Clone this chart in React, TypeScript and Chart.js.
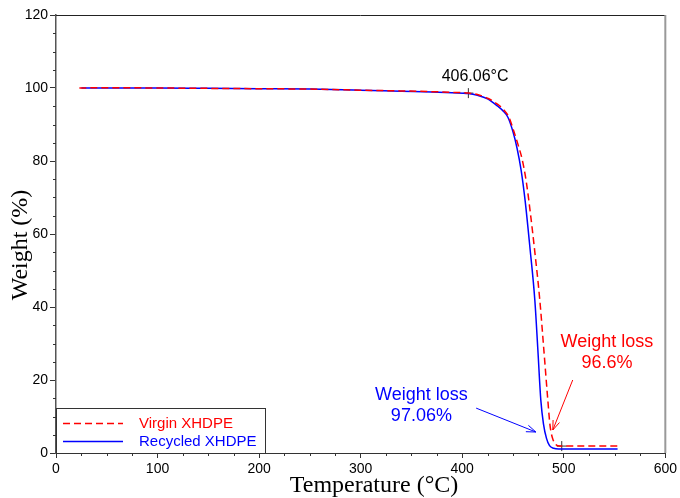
import React, { useEffect, useRef } from 'react';
import { Chart, registerables } from 'chart.js';

Chart.register(...registerables);

// ---- data ----
const virginTemp = [23, 50, 100, 150, 200, 250, 300, 340, 370, 390, 406, 415, 425, 435, 441, 446, 451, 455.5, 459, 463, 467, 471.3, 476.4, 480.4, 484.3, 486.5, 489, 492, 496, 520, 553];
const virginWeight = [100, 100.1, 100, 99.9, 99.8, 99.7, 99.4, 99.2, 99.0, 98.8, 98.6, 98.2, 97.2, 95.5, 94, 92, 88, 84, 80.5, 74.5, 66, 55.6, 41.9, 28.2, 14.5, 7.5, 4, 2.4, 1.9, 1.9, 1.9];

const recycledTemp = [25, 50, 100, 150, 200, 250, 300, 340, 370, 390, 406, 415, 425, 435, 440, 445, 450, 454, 458, 462, 466.6, 471.5, 474.5, 477.4, 480, 483, 486, 490, 495, 520, 553];
const recycledWeight = [100, 100, 100, 99.9, 99.8, 99.7, 99.4, 99.1, 98.9, 98.7, 98.5, 98.0, 97.0, 95.0, 93.8, 92, 88, 83.5, 77.5, 69, 56.5, 41.9, 28.2, 14.5, 8, 4, 2, 1.3, 1.1, 1.1, 1.1];

const markerTemp = [406.06, 498];
const markerWeight = [98.6, 1.9];

const seriesLabels = ['Virgin XHDPE', 'Recycled XHDPE'];
const onsetLabel = '406.06°C';
const onsetLabelPos = [412.7, 103.2];
const virginLossLines = ['Weight loss', '96.6%'];
const virginLossPos = [542.5, 30.4];
const recycledLossLines = ['Weight loss', '97.06%'];
const recycledLossPos = [359.8, 15.9];
const virginArrow = [[508.8, 20.0], [489.2, 6.3]];
const recycledArrow = [[413.7, 12.3], [472.5, 5.75]];

const xTitle = 'Temperature (°C)';
const yTitle = 'Weight (%)';
const xMin = 0, xMax = 600, xStep = 100, xMinorStep = 25;
const yMin = 0, yMax = 120, yStep = 20, yMinorStep = 5;

const SANS = "'Liberation Sans', Arial, sans-serif";
const SERIF = "'Liberation Serif', 'Times New Roman', serif";

const toXY = (xs: number[], ys: number[]) => xs.map((x, i) => ({ x, y: ys[i] }));

const decorPlugin = {
  id: 'decor',
  afterDraw(chart: any) {
    const { ctx, chartArea: a, scales } = chart;
    const xs = scales.x, ys = scales.y;
    const px = (v: number) => xs.getPixelForValue(v);
    const py = (v: number) => ys.getPixelForValue(v);
    ctx.save();

    // frame: top & right
    ctx.strokeStyle = '#222';
    ctx.lineWidth = 1;
    ctx.beginPath();
    ctx.moveTo(a.left, a.top + 0.5);
    ctx.lineTo(a.right, a.top + 0.5);
    ctx.stroke();
    ctx.strokeStyle = '#999';
    ctx.lineWidth = 2;
    ctx.beginPath();
    ctx.moveTo(a.right, a.top);
    ctx.lineTo(a.right, a.bottom);
    ctx.stroke();

    // minor ticks
    ctx.strokeStyle = '#333';
    ctx.lineWidth = 1;
    ctx.beginPath();
    for (let v = xMin + xMinorStep; v < xMax; v += xMinorStep) {
      if (v % xStep === 0) continue;
      const x = Math.round(px(v)) + 0.5;
      ctx.moveTo(x, a.bottom);
      ctx.lineTo(x, a.bottom + 3);
    }
    for (let v = yMin + yMinorStep; v < yMax; v += yMinorStep) {
      if (v % yStep === 0) continue;
      const y = Math.round(py(v)) + 0.5;
      ctx.moveTo(a.left - 3, y);
      ctx.lineTo(a.left, y);
    }
    ctx.stroke();

    // annotations
    ctx.textAlign = 'center';
    ctx.textBaseline = 'middle';
    ctx.fillStyle = '#000';
    ctx.font = `16px ${SANS}`;
    ctx.fillText(onsetLabel, px(onsetLabelPos[0]), py(onsetLabelPos[1]));

    ctx.font = `18px ${SANS}`;
    ctx.fillStyle = '#ff0000';
    virginLossLines.forEach((t, i) => ctx.fillText(t, px(virginLossPos[0]), py(virginLossPos[1]) + i * 21));
    ctx.fillStyle = '#0000ff';
    recycledLossLines.forEach((t, i) => ctx.fillText(t, px(recycledLossPos[0]), py(recycledLossPos[1]) + i * 21));

    const arrow = (pts: number[][], color: string) => {
      const x1 = px(pts[0][0]), y1 = py(pts[0][1]);
      const x2 = px(pts[1][0]), y2 = py(pts[1][1]);
      const ang = Math.atan2(y2 - y1, x2 - x1);
      const L = 10, spread = 0.35;
      ctx.strokeStyle = color;
      ctx.lineWidth = 1;
      ctx.beginPath();
      ctx.moveTo(x1, y1);
      ctx.lineTo(x2, y2);
      ctx.moveTo(x2 - L * Math.cos(ang - spread), y2 - L * Math.sin(ang - spread));
      ctx.lineTo(x2, y2);
      ctx.lineTo(x2 - L * Math.cos(ang + spread), y2 - L * Math.sin(ang + spread));
      ctx.stroke();
    };
    arrow(virginArrow, '#ff0000');
    arrow(recycledArrow, '#0000ff');

    // legend
    const ds = chart.data.datasets;
    const lx = a.left, ly = a.bottom - 45, lw = 209, lh = 45;
    ctx.fillStyle = '#fff';
    ctx.fillRect(lx + 1, ly, lw - 1, lh);
    ctx.strokeStyle = '#333';
    ctx.lineWidth = 1;
    ctx.strokeRect(lx + 0.5, ly + 0.5, lw, lh);
    ctx.font = `15px ${SANS}`;
    ctx.textAlign = 'left';
    [0, 1].forEach((i) => {
      const y = ly + 15.5 + i * 18;
      ctx.strokeStyle = ds[i].borderColor;
      ctx.lineWidth = 1.5;
      ctx.setLineDash(ds[i].borderDash || []);
      ctx.beginPath();
      ctx.moveTo(lx + 7, y);
      ctx.lineTo(lx + 67, y);
      ctx.stroke();
      ctx.setLineDash([]);
      ctx.fillStyle = ds[i].borderColor;
      ctx.fillText(ds[i].label, lx + 83, y);
    });

    // axis titles
    ctx.fillStyle = '#000';
    ctx.font = `24px ${SERIF}`;
    ctx.textAlign = 'center';
    ctx.textBaseline = 'middle';
    ctx.fillText(xTitle, 374, 486);
    ctx.save();
    ctx.translate(21, 245);
    ctx.rotate(-Math.PI / 2);
    ctx.fillText(yTitle, 0, 0);
    ctx.restore();

    ctx.restore();
  },
};

export default function App() {
  const ref = useRef<HTMLCanvasElement | null>(null);
  useEffect(() => {
    if (!ref.current) return;
    Chart.defaults.font.family = SANS;
    const chart = new Chart(ref.current, {
      type: 'line',
      data: {
        datasets: [
          {
            label: seriesLabels[0],
            data: toXY(virginTemp, virginWeight),
            borderColor: '#ff0000',
            borderWidth: 1.5,
            borderDash: [7, 4],
            pointRadius: 0,
            cubicInterpolationMode: 'monotone',
            fill: false,
          },
          {
            label: seriesLabels[1],
            data: toXY(recycledTemp, recycledWeight),
            borderColor: '#0000ff',
            borderWidth: 1.5,
            pointRadius: 0,
            cubicInterpolationMode: 'monotone',
            fill: false,
          },
          {
            label: 'markers',
            data: toXY(markerTemp, markerWeight),
            showLine: false,
            pointStyle: 'cross',
            pointRadius: 5,
            pointBorderColor: '#333',
            pointBorderWidth: 1,
            borderColor: '#333',
          },
        ],
      } as any,
      options: {
        responsive: false,
        animation: false,
        devicePixelRatio: 1,
        layout: { padding: { top: 15, right: 12, left: 0, bottom: 0 } },
        plugins: { legend: { display: false }, tooltip: { enabled: false } },
        scales: {
          x: {
            type: 'linear',
            min: xMin,
            max: xMax,
            ticks: { stepSize: xStep, color: '#000', font: { size: 14 }, padding: 3, maxRotation: 0 },
            grid: { drawOnChartArea: false, drawTicks: true, tickLength: 5, tickColor: '#333' },
            border: { display: true, color: '#333', width: 1 },
            afterFit: (s: any) => { s.height = 45; },
          },
          y: {
            type: 'linear',
            min: yMin,
            max: yMax,
            ticks: { stepSize: yStep, color: '#000', font: { size: 14 }, padding: 2 },
            grid: { drawOnChartArea: false, drawTicks: true, tickLength: 6, tickColor: '#333' },
            border: { display: true, color: '#555', width: 1.5 },
            afterFit: (s: any) => { s.width = 56; },
          },
        },
      } as any,
      plugins: [decorPlugin],
    });
    return () => chart.destroy();
  }, []);
  return (
    <div style={{ position: 'absolute', left: 0, top: 0, width: 680, height: 498, background: '#fff' }}>
      <canvas ref={ref} width={680} height={498} style={{ display: 'block' }} />
    </div>
  );
}
